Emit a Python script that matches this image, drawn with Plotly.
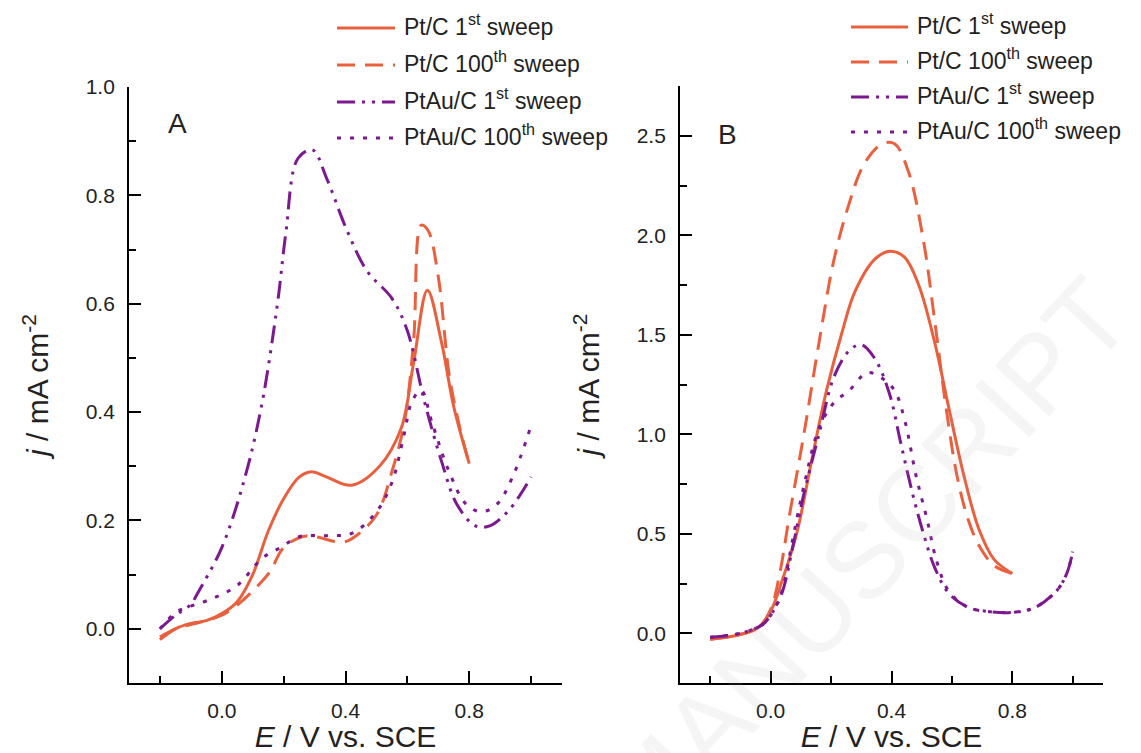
import plotly.graph_objects as go

# ---- Panel A data (E / V vs SCE, j / mA cm-2) ----
a_ptc1_E = [-0.2, -0.15, -0.1, -0.05, 0.0, 0.05, 0.1, 0.15, 0.2, 0.25, 0.29, 0.34, 0.42, 0.51, 0.58, 0.62, 0.665, 0.71, 0.75, 0.8]
a_ptc1_j = [-0.02, 0.0, 0.01, 0.015, 0.028, 0.05, 0.1, 0.18, 0.24, 0.28, 0.29, 0.28, 0.265, 0.3, 0.37, 0.49, 0.625, 0.53, 0.41, 0.305]

a_ptc100_E = [-0.2, -0.15, -0.1, -0.05, 0.0, 0.05, 0.1, 0.154, 0.2, 0.26, 0.3, 0.39, 0.43, 0.5, 0.55, 0.59, 0.62, 0.645, 0.667, 0.7, 0.735, 0.77, 0.8]
a_ptc100_j = [-0.015, 0.0, 0.008, 0.015, 0.025, 0.044, 0.07, 0.104, 0.15, 0.17, 0.17, 0.16, 0.17, 0.21, 0.29, 0.38, 0.53, 0.745, 0.735, 0.65, 0.47, 0.37, 0.305]

a_ptau1_E = [-0.2, -0.15, -0.1, -0.08, 0.0, 0.075, 0.128, 0.18, 0.207, 0.246, 0.293, 0.34, 0.405, 0.47, 0.55, 0.6, 0.655, 0.71, 0.76, 0.82, 0.866, 0.93, 1.0]
a_ptau1_j = [0.0, 0.025, 0.045, 0.064, 0.15, 0.28, 0.41, 0.6, 0.73, 0.868, 0.884, 0.83, 0.735, 0.66, 0.61, 0.55, 0.42, 0.31, 0.23, 0.19, 0.19, 0.22, 0.28]

a_ptau100_E = [-0.2, -0.15, -0.11, -0.03, 0.05, 0.13, 0.19, 0.25, 0.34, 0.42, 0.5, 0.55, 0.59, 0.615, 0.645, 0.68, 0.735, 0.79, 0.84, 0.89, 0.94, 1.0]
a_ptau100_j = [0.0, 0.03, 0.04, 0.056, 0.08, 0.13, 0.15, 0.17, 0.172, 0.176, 0.216, 0.27, 0.36, 0.42, 0.44, 0.38, 0.29, 0.23, 0.216, 0.23, 0.28, 0.375]

# ---- Panel B data ----
b_ptc1_E = [-0.2, -0.11, -0.04, 0.0, 0.037, 0.086, 0.136, 0.185, 0.234, 0.28, 0.345, 0.394, 0.443, 0.49, 0.54, 0.59, 0.64, 0.69, 0.74, 0.8]
b_ptc1_j = [-0.03, -0.01, 0.03, 0.11, 0.26, 0.5, 0.87, 1.22, 1.5, 1.72, 1.88, 1.92, 1.89, 1.75, 1.48, 1.13, 0.79, 0.52, 0.37, 0.3]

b_ptc100_E = [-0.2, -0.11, -0.04, 0.0, 0.03, 0.062, 0.11, 0.16, 0.21, 0.26, 0.31, 0.37, 0.41, 0.456, 0.506, 0.543, 0.58, 0.617, 0.654, 0.69, 0.74, 0.8]
b_ptc100_j = [-0.03, -0.01, 0.03, 0.12, 0.3, 0.59, 1.0, 1.46, 1.88, 2.16, 2.36, 2.46, 2.46, 2.32, 1.97, 1.57, 1.14, 0.79, 0.57, 0.44, 0.34, 0.3]

b_ptau1_E = [-0.2, -0.1, -0.03, 0.0, 0.037, 0.074, 0.11, 0.16, 0.21, 0.26, 0.3, 0.345, 0.394, 0.43, 0.47, 0.506, 0.543, 0.59, 0.654, 0.716, 0.8, 0.876, 0.95, 0.98, 1.0]
b_ptau1_j = [-0.02, 0.0, 0.04, 0.09, 0.2, 0.44, 0.7, 1.0, 1.29, 1.42, 1.45, 1.38, 1.2, 0.96, 0.7, 0.5, 0.33, 0.2, 0.13, 0.11, 0.105, 0.13, 0.22, 0.3, 0.41]

b_ptau100_E = [-0.2, -0.1, -0.03, 0.0, 0.037, 0.074, 0.11, 0.16, 0.21, 0.26, 0.32, 0.37, 0.41, 0.444, 0.48, 0.518, 0.55, 0.59, 0.654, 0.716, 0.8, 0.876, 0.95, 0.98, 1.0]
b_ptau100_j = [-0.02, 0.0, 0.04, 0.09, 0.21, 0.48, 0.74, 1.03, 1.16, 1.22, 1.31, 1.28, 1.22, 1.07, 0.8, 0.57, 0.36, 0.21, 0.13, 0.11, 0.105, 0.13, 0.22, 0.3, 0.41]

names = ["Pt/C 1<sup>st</sup> sweep", "Pt/C 100<sup>th</sup> sweep",
         "PtAu/C 1<sup>st</sup> sweep", "PtAu/C 100<sup>th</sup> sweep"]

ORANGE = "#E9603F"
PURPLE = "#7D1990"
styles = [
    dict(color=ORANGE, dash="solid"),
    dict(color=ORANGE, dash="18px,10px"),
    dict(color=PURPLE, dash="18px,7px,3px,7px,3px,7px"),
    dict(color=PURPLE, dash="4px,9px"),
]

FONT = "Liberation Sans, Arial, sans-serif"
TXT = "#222222"
W, H = 1141, 753


def px_x(p):
    return p / W


def px_y(p):
    return 1 - p / H


fig = go.Figure()

panel_a = [(a_ptc1_E, a_ptc1_j), (a_ptc100_E, a_ptc100_j), (a_ptau1_E, a_ptau1_j), (a_ptau100_E, a_ptau100_j)]
panel_b = [(b_ptc1_E, b_ptc1_j), (b_ptc100_E, b_ptc100_j), (b_ptau1_E, b_ptau1_j), (b_ptau100_E, b_ptau100_j)]

for i, (E, j) in enumerate(panel_a):
    fig.add_trace(go.Scatter(x=E, y=j, mode="lines", name=names[i], xaxis="x", yaxis="y",
                             line=dict(width=3, shape="spline", **styles[i]), showlegend=False))
for i, (E, j) in enumerate(panel_b):
    fig.add_trace(go.Scatter(x=E, y=j, mode="lines", name=names[i], xaxis="x2", yaxis="y2",
                             line=dict(width=3, shape="spline", **styles[i]), showlegend=False))

axis_common = dict(showline=True, linecolor="black", linewidth=1.8, ticks="inside",
                   ticklen=12, tickwidth=1.8, tickcolor="black", showgrid=False, zeroline=False,
                   automargin=False, ticklabelstandoff=8,
                   tickfont=dict(family=FONT, size=21, color=TXT),
                   title_font=dict(family=FONT, size=30, color=TXT))

minor_x = dict(ticks="inside", ticklen=7, tickwidth=1.6, tickcolor="black", tickvals=[-0.2, 0.2, 0.6, 1.0])

fig.update_layout(
    width=W, height=H,
    margin=dict(l=0, r=0, t=0, b=0),
    paper_bgcolor="white", plot_bgcolor="white",
    font=dict(family=FONT, color=TXT),
    showlegend=False,
    xaxis=dict(domain=[px_x(129), px_x(562)], range=[-0.3, 1.1], tickvals=[0.0, 0.4, 0.8],
               ticktext=["0.0", "0.4", "0.8"], anchor="y", minor=minor_x,
               title=dict(text="<i>E</i> / V vs. SCE", standoff=2), **axis_common),
    yaxis=dict(domain=[px_y(683), px_y(87)], range=[-0.1, 1.0], tickvals=[0, 0.2, 0.4, 0.6, 0.8, 1.0],
               tickformat=".1f", anchor="x",
               minor=dict(ticks="inside", ticklen=7, tickwidth=1.6, tickcolor="black",
                          tickvals=[-0.1, 0.1, 0.3, 0.5, 0.7, 0.9]),
               title=dict(text="<i>j</i> / mA cm<sup>-2</sup>", standoff=28), **axis_common),
    xaxis2=dict(domain=[px_x(680), px_x(1103)], range=[-0.3, 1.1], tickvals=[0.0, 0.4, 0.8],
                ticktext=["0.0", "0.4", "0.8"], anchor="y2", minor=minor_x,
                title=dict(text="<i>E</i> / V vs. SCE", standoff=2), **axis_common),
    yaxis2=dict(domain=[px_y(683), px_y(86)], range=[-0.25, 2.75], tickvals=[0, 0.5, 1.0, 1.5, 2.0, 2.5],
                tickformat=".1f", anchor="x2",
                minor=dict(ticks="inside", ticklen=7, tickwidth=1.6, tickcolor="black",
                           tickvals=[-0.25, 0.25, 0.75, 1.25, 1.75, 2.25, 2.75]),
                title=dict(text="<i>j</i> / mA cm<sup>-2</sup>", standoff=28), **axis_common),
)

# hand-placed legends (line samples + labels), one block per panel
legend_blocks = [
    dict(x0=337, x1=395, tx=402, rows=[28, 65, 102, 138]),
    dict(x0=851, x1=908, tx=915, rows=[27, 62, 97, 132]),
]
for blk in legend_blocks:
    for i, ry in enumerate(blk["rows"]):
        fig.add_shape(type="line", xref="paper", yref="paper",
                      x0=px_x(blk["x0"]), x1=px_x(blk["x1"]), y0=px_y(ry), y1=px_y(ry),
                      line=dict(width=3, **styles[i]))
        fig.add_annotation(text=names[i], x=px_x(blk["tx"]), y=px_y(ry - 3), xref="paper", yref="paper",
                           xanchor="left", yanchor="middle", showarrow=False,
                           font=dict(family=FONT, size=23, color=TXT))

# panel letters
fig.add_annotation(text="A", x=px_x(177), y=px_y(124), xref="paper", yref="paper",
                   xanchor="center", yanchor="middle",
                   showarrow=False, font=dict(family=FONT, size=28, color=TXT))
fig.add_annotation(text="B", x=px_x(727), y=px_y(134), xref="paper", yref="paper",
                   xanchor="center", yanchor="middle",
                   showarrow=False, font=dict(family=FONT, size=28, color=TXT))

# faint watermark, mostly outside the picture as in the source
fig.add_annotation(text="ACCEPTED MANUSCRIPT", x=px_x(655), y=px_y(783), xref="paper", yref="paper",
                   xanchor="center", yanchor="middle", showarrow=False, textangle=-47,
                   font=dict(family=FONT, size=108, color="rgba(160,160,160,0.11)"))

# drop the default page margin so the figure sits at the window's top-left corner
fig.write_html("out.html", config={"displayModeBar": False},
               post_script="document.body.style.margin='0px';")
